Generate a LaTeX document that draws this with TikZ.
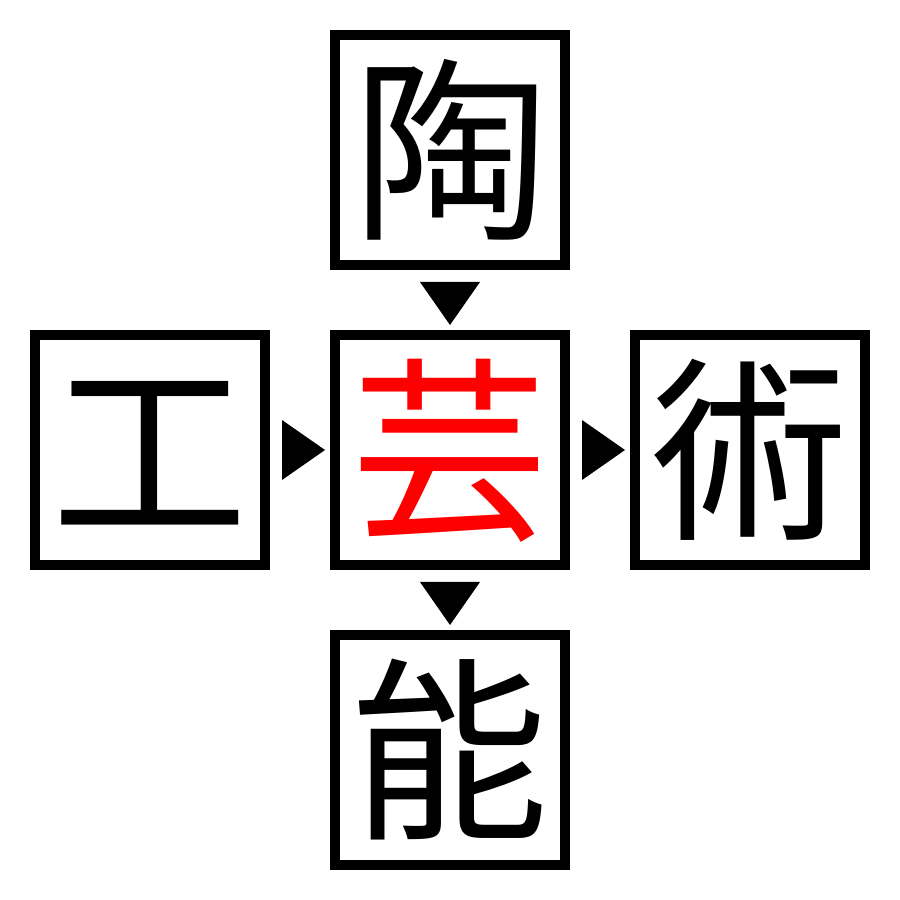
\documentclass[tikz,border=0pt]{standalone}
\usepackage{fontspec}
\newfontfamily\kanji{Noto Sans CJK JP}
\usetikzlibrary{calc}

\begin{document}
\begin{tikzpicture}[scale=1.0,kanjibox/.style={draw,line width=1mm,minimum size=2.3cm,inner sep=0pt,
    font=\kanji\fontsize{56}{56}\selectfont,text height=49.3pt,text depth=6.7pt}]
  \useasboundingbox (0,0) rectangle (9,9);
  \node [kanjibox] (top) at (4.5,7.5) {陶};
  \node [kanjibox] (left) at (1.5,4.5) {工};
  \node [kanjibox,text=red] (mid) at (4.5,4.5) {芸};
  \node [kanjibox] (right) at (7.5,4.5) {術};
  \node [kanjibox] (bot) at (4.5,1.5) {能};

  \foreach \a/\b in {top/mid,mid/bot}
    \fill ($(\a)!0.5!(\b)$) ++(-0.3,0.18) -- ++(0.6,0) -- ++(-0.3,-0.43) -- cycle;
  \foreach \a/\b in {left/mid,mid/right}
    \fill ($(\a)!0.5!(\b)$) ++(-0.18,0.3) -- ++(0,-0.6) -- ++(0.43,0.3) -- cycle;
\end{tikzpicture}
\end{document}
